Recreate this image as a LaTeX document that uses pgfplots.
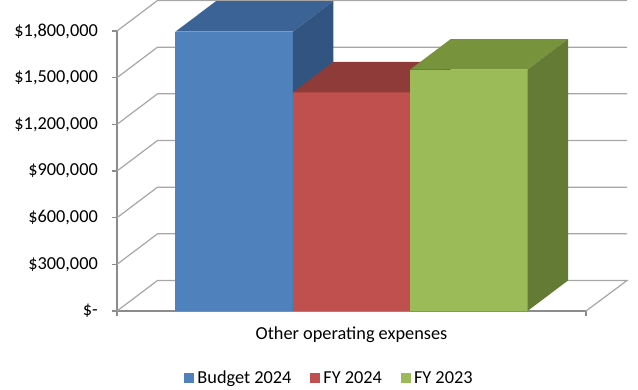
\documentclass[border=0pt]{standalone}
\usepackage{fontspec}
\setmainfont{Carlito}
\usepackage{pgfplots}
\pgfplotsset{compat=1.18}
\definecolor{gridgray}{RGB}{166,166,166}
\definecolor{axgray}{RGB}{140,140,140}
\definecolor{bluef}{RGB}{79,129,189}
\definecolor{bluet}{RGB}{60,99,150}
\definecolor{blues}{RGB}{50,84,128}
\definecolor{redf}{RGB}{192,80,77}
\definecolor{redt}{RGB}{143,59,57}
\definecolor{reds}{RGB}{122,50,48}
\definecolor{greenf}{RGB}{155,187,89}
\definecolor{greent}{RGB}{119,147,60}
\definecolor{greens}{RGB}{100,123,53}
\begin{document}
\begin{tikzpicture}[font=\fontsize{18.3}{22}\selectfont]
\path[use as bounding box] (0,0) rectangle (638pt,389pt);
\begin{axis}[
  at={(117pt,78pt)}, anchor=south west,
  scale only axis, width=469pt, height=280pt,
  xmin=0, xmax=469, ymin=0, ymax=1800000,
  enlargelimits=false, clip=false,
  axis x line=bottom, axis y line=left,
  axis line style={-, draw=axgray, line width=1.2pt},
  tick align=outside, major tick length=5pt,
  tick style={draw=axgray, line width=1.2pt},
  xtick={0,469}, xticklabels={,},
  extra x ticks={234.5}, extra x tick labels={Other operating expenses},
  extra x tick style={major tick length=0pt, tick style={draw=none},
    xticklabel style={yshift=-12pt}},
  ytick={0,300000,600000,900000,1200000,1500000,1800000},
  yticklabels={{\$-\hspace{9pt}},{\$300,000},{\$600,000},{\$900,000},{\$1,200,000},{\$1,500,000},{\$1,800,000}},
  scaled y ticks=false,
  yticklabel style={inner xsep=0pt, xshift=-14pt},
  legend columns=3,
  legend style={at={(0.451,-0.239)}, anchor=center, draw=none, fill=none,
    inner sep=0pt, column sep=0pt,
    nodes={inner xsep=0pt, inner ysep=0pt},
    /tikz/every odd column/.append style={column sep=3.5pt},
    /tikz/every even column/.append style={column sep=19pt}},
  legend image code/.code={\fill[#1] (0pt,-4.8pt) rectangle (9.5pt,4.8pt);},
]
% back wall gridlines and floor
\addplot[gridgray, line width=1.2pt, forget plot] coordinates {(0,0) (40.5,196000) (510,196000) (469,0)};
\addplot[gridgray, line width=1.2pt, forget plot] coordinates {(0,300000) (40.5,496000) (510,496000)};
\addplot[gridgray, line width=1.2pt, forget plot] coordinates {(0,600000) (40.5,796000) (510,796000)};
\addplot[gridgray, line width=1.2pt, forget plot] coordinates {(0,900000) (40.5,1096000) (510,1096000)};
\addplot[gridgray, line width=1.2pt, forget plot] coordinates {(0,1200000) (40.5,1396000) (510,1396000)};
\addplot[gridgray, line width=1.2pt, forget plot] coordinates {(0,1500000) (40.5,1696000) (510,1696000)};
\addplot[gridgray, line width=1.2pt, forget plot] coordinates {(0,1800000) (40.5,1996000) (510,1996000)};
% Budget 2024
\addplot[fill=bluef, draw=none] coordinates {(58.5,0) (175.83,0) (175.83,1796000) (58.5,1796000)} -- cycle;
\addlegendentry{Budget 2024}
\addplot[fill=bluet, draw=none, forget plot] coordinates {(58.5,1796000) (175.83,1796000) (216.33,1992000) (99,1992000)} -- cycle;
\addplot[fill=blues, draw=none, forget plot] coordinates {(175.83,0) (216.33,196000) (216.33,1992000) (175.83,1796000)} -- cycle;
% FY 2024
\addplot[fill=redf, draw=none] coordinates {(175.83,0) (293.17,0) (293.17,1405000) (175.83,1405000)} -- cycle;
\addlegendentry{FY 2024}
\addplot[fill=redt, draw=none, forget plot] coordinates {(175.83,1405000) (293.17,1405000) (333.67,1601000) (216.33,1601000)} -- cycle;
\addplot[fill=reds, draw=none, forget plot] coordinates {(293.17,0) (333.67,196000) (333.67,1601000) (293.17,1405000)} -- cycle;
% FY 2023
\addplot[fill=greenf, draw=none] coordinates {(293.17,0) (410.5,0) (410.5,1552000) (293.17,1552000)} -- cycle;
\addlegendentry{FY 2023}
\addplot[fill=greent, draw=none, forget plot] coordinates {(293.17,1552000) (410.5,1552000) (451,1748000) (333.67,1748000)} -- cycle;
\addplot[fill=greens, draw=none, forget plot] coordinates {(410.5,0) (451,196000) (451,1748000) (410.5,1552000)} -- cycle;
\end{axis}
\end{tikzpicture}
\end{document}
